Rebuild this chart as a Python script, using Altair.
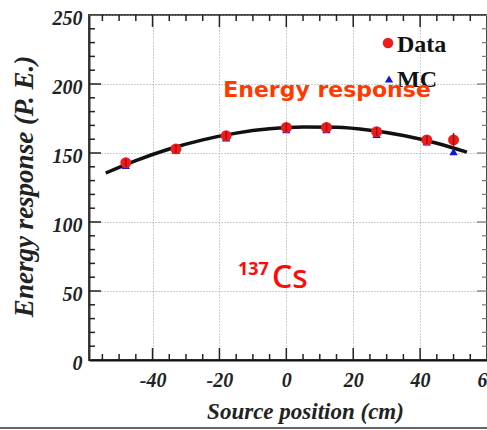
import altair as alt
import pandas as pd

# ---- data ----
positions = [-48, -33, -18, 0, 12, 27, 42, 50]
data_resp = [143, 153, 162.5, 168.5, 168.5, 165.5, 159.5, 159.5]
data_err = [3, 3, 3, 3, 3, 3, 3, 5]
mc_resp = [141, 152, 161, 167, 167, 163.5, 158, 151]

fit_x = [-54, -45, -35, -25, -15, -5, 5, 15, 25, 35, 45, 54]
fit_y = [135.5, 144.5, 152.9, 159.5, 164.4, 167.5, 168.9, 168.6, 166.5, 162.7, 157.1, 150.6]

x_label_values = [-40, -20, 0, 20, 40, 60]
y_label_values = [0, 50, 100, 150, 200, 250]
x_major = [-40, -20, 0, 20, 40]
x_minor = [-55, -50, -45, -35, -30, -25, -15, -10, -5, 5, 10, 15, 25, 30, 35, 45, 50, 55]
y_major = [50, 100, 150, 200]
y_minor = [10, 20, 30, 40, 60, 70, 80, 90, 110, 120, 130, 140, 160, 170, 180, 190,
           210, 220, 230, 240]

W, H = 398, 345
SERIF = "Liberation Serif"

df = pd.DataFrame({"pos": positions, "data": data_resp, "err": data_err, "mc": mc_resp})
df["lo"] = df["data"] - df["err"]
df["hi"] = df["data"] + df["err"]
fit = pd.DataFrame({"pos": fit_x, "resp": fit_y})

xscale = alt.Scale(domain=[-59, 60], nice=False, zero=False)
yscale = alt.Scale(domain=[0, 250], nice=False, zero=False)

xaxis = alt.Axis(values=x_label_values, grid=True, gridDash=[1, 2], gridColor="#9a9a9a",
                 gridWidth=1, ticks=False, domainColor="#111", domainWidth=2,
                 labelExpr="'' + datum.value",
                 labelFont=SERIF, labelFontStyle="italic", labelFontWeight="bold",
                 labelFontSize=20, labelColor="#222", labelPadding=10, labelFlush=False,
                 labelOverlap=False,
                 title="Source position (cm)", titleFont=SERIF, titleFontStyle="italic",
                 titleFontWeight="bold", titleFontSize=23, titleColor="#222",
                 titleX=216, titleY=58, titleBaseline="alphabetic", titleAlign="center")
yaxis = alt.Axis(values=y_label_values, grid=True, gridDash=[1, 2], gridColor="#9a9a9a",
                 gridWidth=1, ticks=False, domainColor="#333", domainWidth=2,
                 labelFont=SERIF, labelFontStyle="italic", labelFontWeight="bold",
                 labelFontSize=20, labelColor="#222", labelPadding=7, labelOffset=3,
                 labelFlush=False, labelOverlap=False,
                 title="Energy response (P. E.)", titleFont=SERIF, titleFontStyle="italic",
                 titleFontWeight="bold", titleFontSize=27, titleColor="#222",
                 titleAngle=270, titleX=-57, titleY=171, titleBaseline="alphabetic",
                 titleAlign="center")


def X(field):
    return alt.X(field, type="quantitative", scale=xscale, axis=xaxis)


def Y(field):
    return alt.Y(field, type="quantitative", scale=yscale, axis=yaxis)


curve = alt.Chart(fit).mark_line(color="#111", strokeWidth=3.5, interpolate="monotone").encode(
    x=X("pos"), y=Y("resp"))
mc = alt.Chart(df).mark_point(shape="triangle-up", filled=True, size=70, color="#1515d8",
                              opacity=1).encode(x=X("pos"), y=Y("mc"))
data = alt.Chart(df).mark_point(shape="circle", filled=True, size=120, color="#ee1c1c",
                                opacity=1).encode(x=X("pos"), y=Y("data"))
errs = alt.Chart(df).mark_rule(color="#b00000", strokeWidth=1.5).encode(
    x=X("pos"), y=Y("lo"), y2="hi")

# inward ticks
xmaj = pd.DataFrame({"v": x_major})
xmin = pd.DataFrame({"v": x_minor})
ymaj = pd.DataFrame({"v": y_major})
ymin = pd.DataFrame({"v": y_minor})
tick_color = "#222"
ticks = [
    alt.Chart(xmaj).mark_rule(color=tick_color, strokeWidth=1.5).encode(
        x=X("v"), y=alt.value(H), y2=alt.value(H - 12)),
    alt.Chart(xmin).mark_rule(color=tick_color, strokeWidth=1.5).encode(
        x=X("v"), y=alt.value(H), y2=alt.value(H - 6)),
    alt.Chart(xmaj).mark_rule(color=tick_color, strokeWidth=1.5).encode(
        x=X("v"), y=alt.value(0), y2=alt.value(12)),
    alt.Chart(xmin).mark_rule(color=tick_color, strokeWidth=1.5).encode(
        x=X("v"), y=alt.value(0), y2=alt.value(6)),
    alt.Chart(ymaj).mark_rule(color=tick_color, strokeWidth=1.5).encode(
        y=Y("v"), x=alt.value(0), x2=alt.value(12)),
    alt.Chart(ymin).mark_rule(color=tick_color, strokeWidth=1.5).encode(
        y=Y("v"), x=alt.value(0), x2=alt.value(6)),
    alt.Chart(ymaj).mark_rule(color="#777", strokeWidth=1.2).encode(
        y=Y("v"), x=alt.value(W), x2=alt.value(W - 10)),
    alt.Chart(ymin).mark_rule(color="#777", strokeWidth=1.2).encode(
        y=Y("v"), x=alt.value(W), x2=alt.value(W - 5)),
]

one = pd.DataFrame({"a": [0]})
leg_data_sym = alt.Chart(one).mark_point(shape="circle", filled=True, size=110,
                                         color="#ee1c1c", opacity=1).encode(
    x=alt.value(299), y=alt.value(28))
leg_mc_sym = alt.Chart(one).mark_point(shape="triangle-up", filled=True, size=70,
                                       color="#1515d8", opacity=1).encode(
    x=alt.value(300), y=alt.value(64))
leg_data_txt = alt.Chart(one).mark_text(font=SERIF, fontWeight="bold", fontSize=24,
                                        color="#111", align="left",
                                        baseline="alphabetic").encode(
    x=alt.value(308), y=alt.value(37), text=alt.value("Data"))
leg_mc_txt = alt.Chart(one).mark_text(font=SERIF, fontWeight="bold", fontSize=24,
                                      color="#111", align="left",
                                      baseline="alphabetic").encode(
    x=alt.value(308), y=alt.value(72), text=alt.value("MC"))

energy_txt = alt.Chart(one).mark_text(font="DejaVu Sans", fontWeight="bold", fontSize=22,
                                      color="#ff3a00", align="center",
                                      baseline="alphabetic").encode(
    x=alt.value(238), y=alt.value(82), text=alt.value("Energy response"))
iso_txt = alt.Chart(one).mark_text(font="Noto Sans", fontWeight="bold", fontSize=18,
                                   color="#ff0a0a", align="left",
                                   baseline="alphabetic").encode(
    x=alt.value(149), y=alt.value(260), text=alt.value("137"))
cs_txt = alt.Chart(one).mark_text(font="Noto Sans", fontWeight=500, fontSize=32,
                                  color="#ff0a0a", align="left",
                                  baseline="alphabetic").encode(
    x=alt.value(183), y=alt.value(273), text=alt.value("Cs"))

bottom_line = alt.Chart(one).mark_rule(color="#666", strokeWidth=2).encode(
    x=alt.value(-89), x2=alt.value(W), y=alt.value(413))

chart = alt.layer(
    *ticks, curve, mc, data, errs,
    leg_data_sym, leg_mc_sym, leg_data_txt, leg_mc_txt, energy_txt, iso_txt, cs_txt,
    bottom_line,
).properties(
    width=W, height=H,
    autosize=alt.AutoSizeParams(type="none"),
    padding={"left": 89, "top": 15, "right": 0, "bottom": 70},
    background="white",
).configure_view(stroke="#444", strokeWidth=2)

chart.save("out.html", embed_options={"renderer": "svg", "actions": False})
